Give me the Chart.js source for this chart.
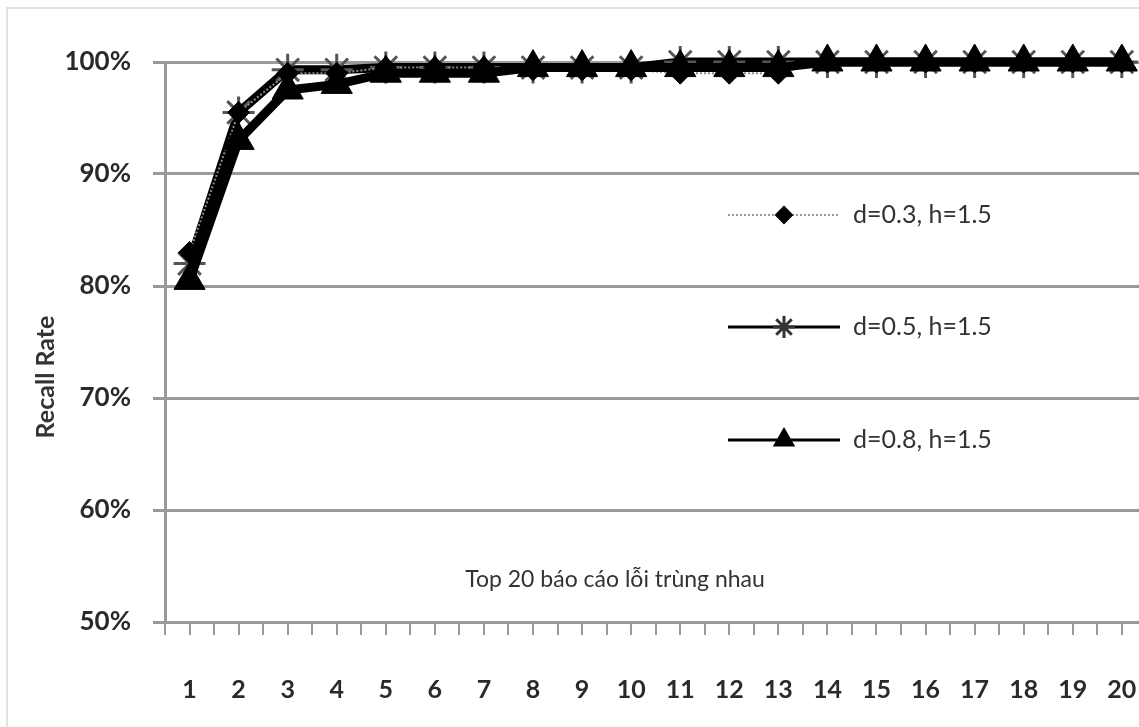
<!DOCTYPE html>
<html>
<head>
<meta charset="utf-8">
<script src="https://cdn.jsdelivr.net/npm/chart.js@4/dist/chart.umd.min.js"></script>
<style>
  html, body { margin: 0; padding: 0; background: #fff; overflow: hidden; }
  #wrap { width: 1139px; height: 727px; position: relative; }
  canvas { display: block; }
</style>
</head>
<body>
<div id="wrap"><canvas id="myChart"></canvas></div>
<script>
// values (recall rate in %)
const categories = [1, 2, 3, 4, 5, 6, 7, 8, 9, 10, 11, 12, 13, 14, 15, 16, 17, 18, 19, 20]
const seriesNames = ['d=0.3, h=1.5', 'd=0.5, h=1.5', 'd=0.8, h=1.5']
const d03 = [83, 95.5, 99, 99, 99.5, 99.5, 99.5, 99.3, 99.3, 99.3, 99, 99, 99, 100, 100, 100, 100, 100, 100, 100]
const d05 = [82, 95.5, 99.3, 99.3, 99.5, 99.5, 99.5, 99.5, 99.5, 99.5, 100, 100, 100, 100, 100, 100, 100, 100, 100, 100]
const d08 = [80.5, 93, 97.5, 98, 99, 99, 99, 99.5, 99.5, 99.5, 99.5, 99.5, 99.5, 100, 100, 100, 100, 100, 100, 100]
const yTicks = [50, 60, 70, 80, 90, 100]
const xTitle = 'Top 20 báo cáo lỗi trùng nhau'
const yTitle = 'Recall Rate'

const FONT = 'Lato, "Open Sans", sans-serif'
const GRID = '#9a9a9a'

function pts(arr) {
    return arr.map((v, i) => ({ x: categories[i], y: v }))
}

const styles = [
    { pointStyle: 'rectRot', radius: 11, line: '#8a8a8a', lw: 2, dash: [2, 2], pbColor: '#000', pbw: 1 },
    { pointStyle: 'star', radius: 16, line: '#000', lw: 9, dash: [], pbColor: '#555', pbw: 3 },
    { pointStyle: 'triangle', radius: 18, line: '#000', lw: 9, dash: [], pbColor: '#000', pbw: 1 }
]

const allSeries = [d03, d05, d08]

const datasets = allSeries.map((s, i) => ({
    label: seriesNames[i],
    data: pts(s),
    borderColor: styles[i].line,
    borderWidth: styles[i].lw,
    borderDash: styles[i].dash,
    pointStyle: styles[i].pointStyle,
    pointRadius: styles[i].radius,
    pointBackgroundColor: '#000',
    pointBorderColor: styles[i].pbColor,
    pointBorderWidth: styles[i].pbw,
    tension: 0,
    clip: false,
    order: [1, 2, 0][i]
}))

// texts and legend drawn inside the plot, like the original
const extras = {
    id: 'extras',
    beforeDraw(chart) {
        const ctx = chart.ctx
        ctx.save()
        ctx.strokeStyle = '#e2e2e2'
        ctx.lineWidth = 2
        ctx.beginPath()
        ctx.moveTo(7, 727)
        ctx.lineTo(7, 8)
        ctx.lineTo(1139, 8)
        ctx.stroke()
        ctx.restore()
    },
    afterDraw(chart) {
        const ctx = chart.ctx
        const a = chart.chartArea
        ctx.save()

        // x title inside the plot
        ctx.fillStyle = '#333'
        ctx.font = '23px ' + FONT
        ctx.textAlign = 'center'
        ctx.textBaseline = 'middle'
        ctx.fillText(xTitle, a.left + 450, a.bottom - 42)

        // y title
        ctx.save()
        ctx.translate(46, 377)
        ctx.rotate(-Math.PI / 2)
        ctx.font = 'bold 25px ' + FONT
        ctx.fillText(yTitle, 0, 0)
        ctx.restore()

        // legend
        const lx0 = a.left + 563, lx1 = a.left + 675, tx = a.left + 688
        const ys = [a.top + 153, a.top + 265, a.top + 378]
        const legendMarks = [
            { pointStyle: 'rectRot', radius: 8, borderWidth: 1 },
            { pointStyle: 'star', radius: 11, borderWidth: 2 },
            { pointStyle: 'triangle', radius: 10, borderWidth: 1 }
        ]
        seriesNames.forEach((name, i) => {
            const y = ys[i]
            ctx.beginPath()
            ctx.strokeStyle = i === 0 ? '#9a9a9a' : '#000'
            ctx.lineWidth = i === 0 ? 2 : 3
            ctx.setLineDash(i === 0 ? [2, 2] : [])
            ctx.moveTo(lx0, y)
            ctx.lineTo(lx1, y)
            ctx.stroke()
            ctx.setLineDash([])
            ctx.fillStyle = '#000'
            ctx.strokeStyle = i === 1 ? '#333' : '#000'
            Chart.helpers.drawPoint(ctx, Object.assign({ rotation: 0 }, legendMarks[i]), (lx0 + lx1) / 2, y)
            ctx.fillStyle = '#333'
            ctx.font = '25px ' + FONT
            ctx.textAlign = 'left'
            ctx.textBaseline = 'middle'
            ctx.fillText(name, tx, y)
        })
        ctx.restore()
    }
}

const config = {
    type: 'line',
    data: { datasets },
    options: {
        responsive: true,
        maintainAspectRatio: false,
        animation: false,
        layout: { autoPadding: false, padding: { top: 62, right: 0, bottom: 0, left: 0 } },
        plugins: {
            legend: { display: false },
            tooltip: { enabled: false }
        },
        scales: {
            x: {
                type: 'linear',
                min: 0.5,
                max: 20.35,
                afterBuildTicks: (s) => {
                    const t = []
                    for (let v = 0.5; v <= 20; v += 0.5) t.push({ value: v })
                    s.ticks = t
                },
                afterFit: (s) => {
                    s.height = 105
                    s.paddingLeft = 0
                    s.paddingRight = 0
                },
                grid: {
                    drawOnChartArea: false,
                    drawTicks: true,
                    tickLength: 13,
                    color: GRID,
                    lineWidth: 2
                },
                border: { display: true, color: GRID, width: 3 },
                ticks: {
                    autoSkip: false,
                    maxRotation: 0,
                    padding: 40,
                    color: '#2a2a2a',
                    font: { family: FONT, size: 25, weight: 'bold' },
                    callback: (v) => Number.isInteger(v) ? String(v) : ''
                }
            },
            y: {
                min: 50,
                max: 100,
                afterBuildTicks: (s) => { s.ticks = yTicks.map(v => ({ value: v })) },
                afterFit: (s) => {
                    s.width = 165
                    s.paddingTop = 0
                    s.paddingBottom = 0
                },
                grid: {
                    color: GRID,
                    lineWidth: 3,
                    drawTicks: true,
                    tickLength: 12
                },
                border: { display: true, color: GRID, width: 3 },
                ticks: {
                    padding: 22,
                    color: '#2a2a2a',
                    font: { family: FONT, size: 26, weight: 'bold' },
                    callback: (v) => v + '%'
                }
            }
        }
    },
    plugins: [extras]
}

const myChart = new Chart(document.getElementById('myChart').getContext('2d'), config)
</script>
</body>
</html>
